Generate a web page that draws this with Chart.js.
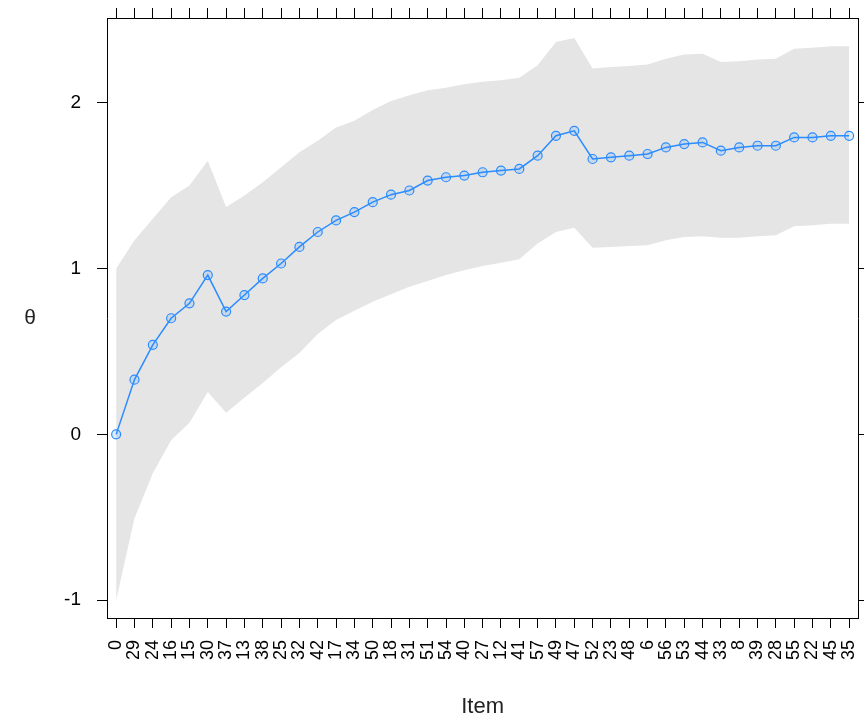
<!DOCTYPE html>
<html><head><meta charset="utf-8">
<script src="https://cdn.jsdelivr.net/npm/chart.js@4/dist/chart.umd.min.js"></script>
<style>html,body{margin:0;padding:0;background:#fff;} #wrap{width:864px;height:724px;}</style>
</head><body><div id="wrap"><canvas id="c" width="864" height="724"></canvas></div>
<script>
// Item order (x-axis categories)
const items = ["0","29","24","16","15","30","37","13","38","25","32","42","17","34","50","18","31","51","54","40","27","12","41","57","49","47","52","23","48","6","56","53","44","33","8","39","28","55","22","45","35"];
// theta estimate after each item
const theta = [0.00,0.33,0.54,0.70,0.79,0.96,0.74,0.84,0.94,1.03,
               1.13,1.22,1.29,1.34,1.40,1.445,1.47,1.53,1.55,1.56,
               1.58,1.59,1.60,1.68,1.80,1.83,1.66,1.67,1.68,1.69,
               1.73,1.75,1.76,1.71,1.73,1.74,1.74,1.79,1.79,1.80,
               1.80];
// upper band
const upper = [1.00,1.17,1.30,1.43,1.50,1.65,1.37,1.44,1.52,1.61,
               1.70,1.77,1.85,1.89,1.955,2.01,2.045,2.075,2.09,2.11,
               2.125,2.135,2.15,2.225,2.365,2.39,2.205,2.215,2.22,2.23,
               2.265,2.29,2.295,2.245,2.25,2.26,2.265,2.325,2.33,2.34,
               2.34];
// lower band
const lower = [-1.00,-0.505,-0.235,-0.035,0.07,0.255,0.13,0.22,0.31,0.405,
               0.49,0.605,0.69,0.745,0.80,0.845,0.89,0.925,0.96,0.99,
               1.015,1.035,1.055,1.15,1.22,1.245,1.125,1.13,1.135,1.14,
               1.17,1.19,1.195,1.185,1.185,1.195,1.20,1.255,1.26,1.27,
               1.27];
const yTicks = [-1, 0, 1, 2];
const yTitle = "θ";
const xTitle = "Item";

const BLACK = '#000';
const FAM = "'Liberation Sans', Arial, sans-serif";
const Y_MIN = -1.107, Y_MAX = 2.51;
const tickGrid = {display:true, drawOnChartArea:false, drawTicks:true, tickLength:10, color:BLACK, lineWidth:1};
const border = {display:true, color:BLACK, width:1};
function noPad(s){ s.paddingTop = 0; s.paddingBottom = 0; s.paddingLeft = 0; s.paddingRight = 0; }

const yTitlePlugin = {
  id:'yTitle',
  afterDraw(chart){
    const {ctx, chartArea} = chart;
    ctx.save();
    ctx.fillStyle = '#222';
    ctx.font = "21px " + FAM;
    ctx.textAlign = 'center';
    ctx.textBaseline = 'middle';
    ctx.fillText(yTitle, 30, (chartArea.top + chartArea.bottom)/2);
    ctx.restore();
  }
};

new Chart(document.getElementById('c'), {
  type:'line',
  data:{
    labels: items,
    datasets:[
      {label:'theta', data:theta, borderColor:'#2A8CFF', borderWidth:1.5,
       pointRadius:4.5, pointBorderWidth:1.2, pointBorderColor:'#2A8CFF',
       pointBackgroundColor:'rgba(42,140,255,0.15)', fill:false, tension:0},
      {label:'upper', data:upper, borderWidth:0, borderColor:'rgba(0,0,0,0)', pointRadius:0,
       backgroundColor:'#E5E5E5', fill:'+1', tension:0},
      {label:'lower', data:lower, borderWidth:0, borderColor:'rgba(0,0,0,0)', pointRadius:0,
       fill:false, tension:0}
    ]
  },
  options:{
    responsive:false, animation:false,
    layout:{padding:0},
    plugins:{legend:{display:false}, tooltip:{enabled:false}},
    scales:{
      x:{type:'category', position:'bottom', offset:true, grid:tickGrid, border:border,
         ticks:{autoSkip:false, minRotation:90, maxRotation:90, padding:12, color:BLACK,
                font:{family:FAM, size:18}},
         title:{display:true, text:xTitle, color:'#222', font:{family:FAM, size:22}, padding:{top:0, bottom:4}},
         afterFit(s){ s.height = 106; noPad(s); }},
      xTop:{type:'category', position:'top', offset:true, grid:tickGrid, border:border,
         ticks:{display:false},
         afterFit(s){ s.height = 18; noPad(s); }},
      y:{type:'linear', position:'left', min:Y_MIN, max:Y_MAX, grid:tickGrid, border:border,
         afterBuildTicks(s){ s.ticks = yTicks.map(v => ({value:v})); },
         ticks:{padding:16, color:BLACK, font:{family:FAM, size:19}},
         afterFit(s){ s.width = 107; noPad(s); }},
      yRight:{type:'linear', position:'right', min:Y_MIN, max:Y_MAX, grid:tickGrid, border:border,
         afterBuildTicks(s){ s.ticks = yTicks.map(v => ({value:v})); },
         ticks:{display:false},
         afterFit(s){ s.width = 4; noPad(s); }}
    }
  },
  plugins:[yTitlePlugin]
});
</script>
</body></html>
